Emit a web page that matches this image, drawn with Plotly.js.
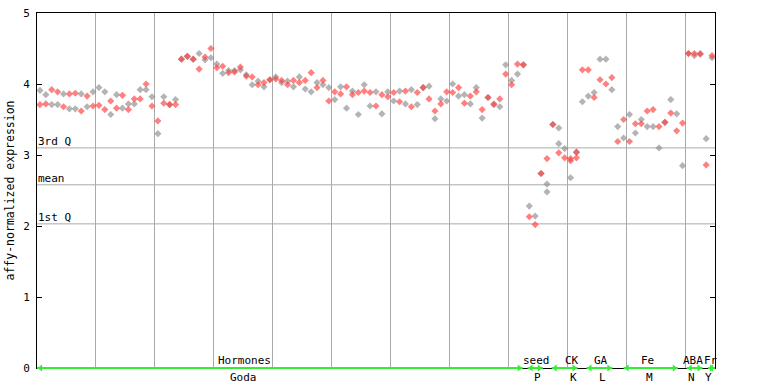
<!DOCTYPE html>
<html>
<head>
<meta charset="utf-8">
<script src="https://cdn.plot.ly/plotly-3.0.1.min.js"></script>
<style>html,body{margin:0;padding:0;background:#fff}#chart{width:768px;height:384px}</style>
</head>
<body>
<div id="chart"></div>
<script>
// ---- data ----
const grayY = [3.91,3.85,3.71,3.71,3.86,3.65,3.65,3.86,3.68,3.89,
  3.95,3.89,3.57,3.85,3.66,3.72,3.72,3.92,3.92,3.82,
  3.30,3.82,3.71,3.78,4.35,4.39,4.35,4.43,4.34,4.37,
  4.28,4.15,4.19,4.19,4.20,4.13,3.99,4.04,3.96,4.06,
  4.10,4.02,4.04,3.96,4.10,3.93,3.89,4.02,3.99,3.95,
  3.78,3.96,3.66,3.90,3.57,3.99,3.69,3.89,3.58,3.89,
  3.76,3.90,3.72,3.92,3.71,3.95,3.97,3.51,3.79,3.76,
  4.00,3.83,3.85,3.72,3.95,3.52,3.81,3.72,3.68,4.27,
  4.05,4.14,4.27,2.28,2.14,2.74,2.59,3.43,3.38,3.09,
  2.68,3.04,3.75,3.83,3.88,4.35,4.35,3.92,3.40,3.24,
  3.57,3.31,3.50,3.40,3.40,3.10,3.46,3.78,3.58,2.85,
  4.43,4.40,4.43,3.23,4.37];
const redY = [3.71,3.72,3.92,3.89,3.68,3.86,3.87,3.62,3.83,3.69,
  3.70,3.64,3.76,3.66,3.84,3.64,3.79,3.79,4.00,3.69,
  3.48,3.73,3.71,3.71,4.35,4.39,4.35,4.21,4.38,4.50,
  4.23,4.25,4.16,4.17,4.24,4.11,4.10,3.99,4.02,4.06,
  4.07,4.05,3.99,4.05,4.02,4.05,4.16,3.95,4.05,3.76,
  3.89,3.86,3.96,3.85,3.88,3.90,3.88,3.69,3.85,3.82,
  3.88,3.75,3.90,3.68,3.88,3.95,3.79,3.62,3.72,3.89,
  3.88,3.95,3.73,3.83,3.89,3.64,3.81,3.71,3.79,4.14,
  3.99,4.28,4.27,2.13,2.02,2.74,2.95,3.43,3.03,2.96,
  2.95,3.04,4.20,4.20,3.81,4.06,4.00,4.09,3.19,3.50,
  3.19,3.44,3.44,3.62,3.64,3.40,3.46,3.59,3.34,3.45,
  4.43,4.43,4.42,2.86,4.40];
const extraGrayCol = [86, 88];
const extraGrayY = [2.48, 3.16];
const extraRedCol = [90, 91];
const extraRedY = [2.92, 2.96];

const quartileNames = ['3rd Q', 'mean', '1st Q'];
const quartileValues = [3.10, 2.58, 2.03];

const groupNames = ['Hormones', 'seed', 'CK', 'GA', 'Fe', 'ABA', 'Fr'];
const groupCodes = ['Goda', 'P', 'K', 'L', 'M', 'N', 'Y'];
const groupStart = [0, 83.2, 87.3, 93.2, 99.5, 110.2, 113.8];
const groupEnd = [82.4, 85.8, 91.7, 97.6, 108.7, 112.9, 115];

// ---- layout helpers (positions of labels) ----
const nameX = [35.2, 84.7, 90.7, 95.6, 103.6, 111.2, 114.4];
const codeX = [35.0, 84.9, 91.0, 95.9, 103.9, 111.0, 113.9];

const colX = i => i + 0.5;
const FONT = 'DejaVu Sans Mono, monospace';
const GREEN = '#33ee33';

const traces = [];
const grayX = grayY.map((_, i) => colX(i)).concat(extraGrayCol.map(colX));
const redX = redY.map((_, i) => colX(i)).concat(extraRedCol.map(colX));
traces.push({
  type: 'scatter', mode: 'markers', x: grayX, y: grayY.concat(extraGrayY),
  marker: {symbol: 'diamond', size: 5.5, color: 'rgba(140,140,140,0.65)', line: {width: 0}},
  hoverinfo: 'skip', showlegend: false
});
traces.push({
  type: 'scatter', mode: 'markers', x: redX, y: redY.concat(extraRedY),
  marker: {symbol: 'diamond', size: 5.5, color: 'rgba(255,60,60,0.65)', line: {width: 0}},
  hoverinfo: 'skip', showlegend: false
});
// arrowheads of group spans
traces.push({
  type: 'scatter', mode: 'markers', x: groupStart.map(v => v + 0.6), y: groupStart.map(() => 0),
  marker: {symbol: 'triangle-left', size: 6, color: GREEN}, cliponaxis: false,
  hoverinfo: 'skip', showlegend: false
});
traces.push({
  type: 'scatter', mode: 'markers', x: groupEnd.map(v => v - 0.6), y: groupEnd.map(() => 0),
  marker: {symbol: 'triangle-right', size: 6, color: GREEN}, cliponaxis: false,
  hoverinfo: 'skip', showlegend: false
});

const shapes = [];
quartileValues.forEach(v => shapes.push({
  type: 'line', xref: 'paper', x0: 0, x1: 1, yref: 'y', y0: v, y1: v,
  line: {color: '#aaaaaa', width: 1}, layer: 'below'
}));
// group span lines along the x axis
groupStart.forEach((s, i) => shapes.push({
  type: 'line', xref: 'x', x0: s, x1: groupEnd[i], yref: 'paper', y0: 0, y1: 0,
  line: {color: GREEN, width: 2}, layer: 'above'
}));

const annotations = [];
quartileNames.forEach((t, i) => annotations.push({
  text: t, xref: 'paper', x: 0, xanchor: 'left', xshift: -1,
  yref: 'y', y: quartileValues[i], yanchor: 'bottom', yshift: -2,
  showarrow: false, font: {family: FONT, size: 11, color: '#000'}
}));
groupNames.forEach((t, i) => annotations.push({
  text: t, xref: 'x', x: nameX[i], xanchor: 'center',
  yref: 'paper', y: 0, yanchor: 'bottom', yshift: -1,
  showarrow: false, font: {family: FONT, size: 11, color: '#000'}
}));
groupCodes.forEach((t, i) => annotations.push({
  text: t, xref: 'x', x: codeX[i], xanchor: 'center',
  yref: 'paper', y: 0, yanchor: 'top', yshift: -1,
  showarrow: false, font: {family: FONT, size: 11, color: '#000'}
}));

const layout = {
  width: 768, height: 384,
  margin: {l: 37, r: 53, t: 13, b: 16},
  paper_bgcolor: '#fff', plot_bgcolor: '#fff',
  showlegend: false,
  font: {family: FONT, size: 11, color: '#000'},
  xaxis: {
    range: [0, 115], dtick: 10, tick0: 0, showgrid: true, gridcolor: '#aaaaaa', gridwidth: 1,
    zeroline: false, showticklabels: false, ticks: '',
    showline: true, mirror: true, linecolor: '#000', linewidth: 1
  },
  yaxis: {
    range: [0, 5], dtick: 1, tick0: 0, showgrid: false, zeroline: false,
    ticks: 'inside', ticklen: 5, tickcolor: '#000', mirror: 'ticks',
    showline: true, linecolor: '#000', linewidth: 1,
    ticklabelstandoff: 4,
    tickfont: {family: FONT, size: 11, color: '#000'},
    title: {text: 'affy-normalized expression', standoff: 6, font: {family: FONT, size: 11.5, color: '#000'}},
    automargin: false
  },
  shapes: shapes,
  annotations: annotations
};

Plotly.newPlot('chart', traces, layout, {staticPlot: true, displayModeBar: false});
</script>
</body>
</html>
